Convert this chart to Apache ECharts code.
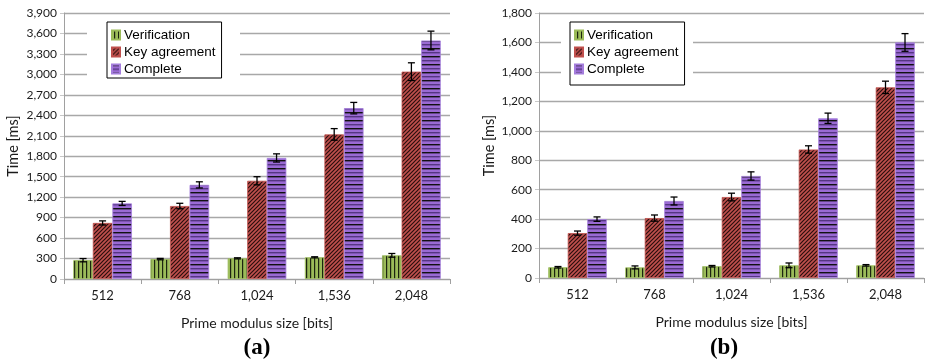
<!DOCTYPE html>
<html>
<head>
<meta charset="utf-8">
<script src="https://cdn.jsdelivr.net/npm/echarts@6/dist/echarts.min.js"></script>
<style>
html,body{margin:0;padding:0;background:#fff;}
#chart{width:927px;height:362px;}
</style>
</head>
<body>
<div id="chart"></div>
<script>
// ---- data ----
const categories = ['512', '768', '1,024', '1,536', '2,048'];
const seriesNames = ['Verification', 'Key agreement', 'Complete'];

// chart (a)
const verA = [276, 292, 303, 318, 347];
const keyA = [822, 1070, 1440, 2120, 3040];
const comA = [1108, 1380, 1775, 2505, 3497];
const verAErr = [24, 10, 8, 8, 27];
const keyAErr = [30, 40, 60, 85, 130];
const comAErr = [30, 45, 60, 84, 137];
const yTicksA = { min: 0, max: 3900, interval: 300 };

// chart (b)
const verB = [73, 72, 80, 86, 86];
const keyB = [305, 407, 550, 873, 1295];
const comB = [400, 523, 693, 1085, 1600];
const verBErr = [5, 10, 5, 16, 5];
const keyBErr = [14, 21, 26, 25, 42];
const comBErr = [15, 27, 28, 35, 60];
const yTicksB = { min: 0, max: 1800, interval: 200 };

const panelTitles = ['(a)', '(b)'];
const xAxisName = 'Prime modulus size [bits]';
const yAxisName = 'Time [ms]';

// ---- patterns ----
function makePattern(w, h, draw) {
  const c = document.createElement('canvas');
  c.width = w; c.height = h;
  const ctx = c.getContext('2d');
  draw(ctx, w, h);
  return { image: c, repeat: 'repeat' };
}
const greenPat = makePattern(4, 4, (ctx, w, h) => {
  ctx.fillStyle = '#9bbb59'; ctx.fillRect(0, 0, w, h);
  ctx.fillStyle = '#1c2410'; ctx.fillRect(2, 0, 1.2, h);
});
const redPat = makePattern(4, 4, (ctx, w, h) => {
  ctx.fillStyle = '#c0504d'; ctx.fillRect(0, 0, w, h);
  ctx.strokeStyle = '#2a0f0e'; ctx.lineWidth = 1.2;
  ctx.beginPath();
  ctx.moveTo(0, h); ctx.lineTo(w, 0);
  ctx.moveTo(-1, 1); ctx.lineTo(1, -1);
  ctx.moveTo(w - 1, h + 1); ctx.lineTo(w + 1, h - 1);
  ctx.stroke();
});
const purplePat = makePattern(4, 8, (ctx, w, h) => {
  ctx.fillStyle = '#9a6ad4'; ctx.fillRect(0, 0, w, h);
  ctx.fillStyle = '#111111'; ctx.fillRect(0, 0, w, 1.4);
  ctx.fillStyle = '#553682'; ctx.fillRect(0, 4, w, 1.4);
});
const patterns = [greenPat, redPat, purplePat];
const borders = ['#9bbb59', '#c0504d', '#a47ddc'];

const GAP = 0.24;
function errRender(offsetIndex) {
  return function (params, api) {
    const x = api.value(0), lo = api.value(1), hi = api.value(2);
    const band = api.size([1, 0])[0];
    const bw = band * (1 - GAP) / 3;
    const p1 = api.coord([x, lo]);
    const p2 = api.coord([x, hi]);
    const cx = p1[0] + offsetIndex * bw;
    const cap = 3.5;
    const st = { stroke: '#000', lineWidth: 1.3 };
    return {
      type: 'group',
      children: [
        { type: 'line', shape: { x1: cx, y1: p1[1], x2: cx, y2: p2[1] }, style: st },
        { type: 'line', shape: { x1: cx - cap, y1: p1[1], x2: cx + cap, y2: p1[1] }, style: st },
        { type: 'line', shape: { x1: cx - cap, y1: p2[1], x2: cx + cap, y2: p2[1] }, style: st }
      ]
    };
  };
}

const axisFont = 'Lato, "Open Sans", sans-serif';

function makeSeries(idx, vals, errs) {
  const out = [];
  vals.forEach((v, i) => {
    out.push({
      name: seriesNames[i], type: 'bar', xAxisIndex: idx, yAxisIndex: idx,
      data: v, barGap: '0%', barCategoryGap: (GAP * 100) + '%',
      itemStyle: { color: patterns[i], borderColor: borders[i], borderWidth: 0.8 },
      emphasis: { disabled: true }, animation: false
    });
  });
  vals.forEach((v, i) => {
    out.push({
      name: 'err' + idx + '_' + i, type: 'custom', xAxisIndex: idx, yAxisIndex: idx,
      renderItem: errRender(i - 1), z: 5, animation: false, silent: true,
      encode: { x: 0, y: [1, 2] },
      data: v.map((val, k) => [k, val - errs[i][k], val + errs[i][k]])
    });
  });
  return out;
}

function xAxisCfg(idx) {
  return {
    type: 'category', gridIndex: idx, data: categories,
    axisLine: { lineStyle: { color: '#a0a0a0', width: 1 } },
    axisTick: { show: true, length: 5, lineStyle: { color: '#a0a0a0' } },
    axisLabel: { color: '#1a1a1a', fontFamily: axisFont, fontSize: 13, margin: 10 },
    name: xAxisName, nameLocation: 'middle', nameGap: 37,
    nameTextStyle: { color: '#1a1a1a', fontFamily: axisFont, fontSize: 14 }
  };
}
function yAxisCfg(idx, t, gap) {
  return {
    type: 'value', gridIndex: idx, min: t.min, max: t.max, interval: t.interval,
    axisLine: { show: true, lineStyle: { color: '#a0a0a0', width: 1 } },
    axisTick: { show: true, length: 4, lineStyle: { color: '#c8c8c8' } },
    splitLine: { show: true, lineStyle: { color: '#a8a8a8', width: 1.4 } },
    axisLabel: {
      color: '#1a1a1a', fontFamily: axisFont, fontSize: 12, margin: 7,
      formatter: v => v.toLocaleString('en-US')
    },
    name: yAxisName, nameLocation: 'middle', nameGap: gap, nameRotate: 90,
    nameTextStyle: { color: '#1a1a1a', fontFamily: axisFont, fontSize: 14.5 }
  };
}

function legendCfg(left, top, pad) {
  return {
    orient: 'vertical', left: left, top: top, data: seriesNames,
    icon: 'rect', itemWidth: 8, itemHeight: 9, itemGap: 3,
    padding: pad, backgroundColor: '#fff', borderColor: '#000', borderWidth: 1,
    borderRadius: 0, selectedMode: false,
    textStyle: { fontFamily: '"Liberation Sans", Arial, sans-serif', fontSize: 13.5, color: '#000', lineHeight: 14, padding: [0, 0, 0, -1] },
    z: 10
  };
}

const chart = echarts.init(document.getElementById('chart'), null, { renderer: 'canvas' });
chart.setOption({
  animation: false,
  backgroundColor: '#fff',
  title: [
    { text: panelTitles[0], left: 257, top: 337, textAlign: 'center',
      textStyle: { fontFamily: '"Liberation Serif", "Times New Roman", serif', fontWeight: 'bold', fontSize: 23, color: '#000' }, padding: 0 },
    { text: panelTitles[1], left: 724, top: 337, textAlign: 'center',
      textStyle: { fontFamily: '"Liberation Serif", "Times New Roman", serif', fontWeight: 'bold', fontSize: 23, color: '#000' }, padding: 0 }
  ],
  grid: [
    { left: 64, top: 13, width: 386, height: 266 },
    { left: 539, top: 13, width: 385, height: 265 }
  ],
  xAxis: [xAxisCfg(0), xAxisCfg(1)],
  yAxis: [yAxisCfg(0, yTicksA, 43), yAxisCfg(1, yTicksB, 42)],
  legend: [legendCfg(107, 22, [6, 6, 2, 4]), legendCfg(570, 22, [6, 6, 9, 4])],
  graphic: [
    { type: 'rect', shape: { x: 87, y: 18, width: 153, height: 68 }, style: { fill: '#fff' }, z: 1, silent: true },
    { type: 'rect', shape: { x: 561, y: 18, width: 132, height: 74 }, style: { fill: '#fff' }, z: 1, silent: true }
  ],
  series: [].concat(
    makeSeries(0, [verA, keyA, comA], [verAErr, keyAErr, comAErr]),
    makeSeries(1, [verB, keyB, comB], [verBErr, keyBErr, comBErr])
  )
});
</script>
</body>
</html>
